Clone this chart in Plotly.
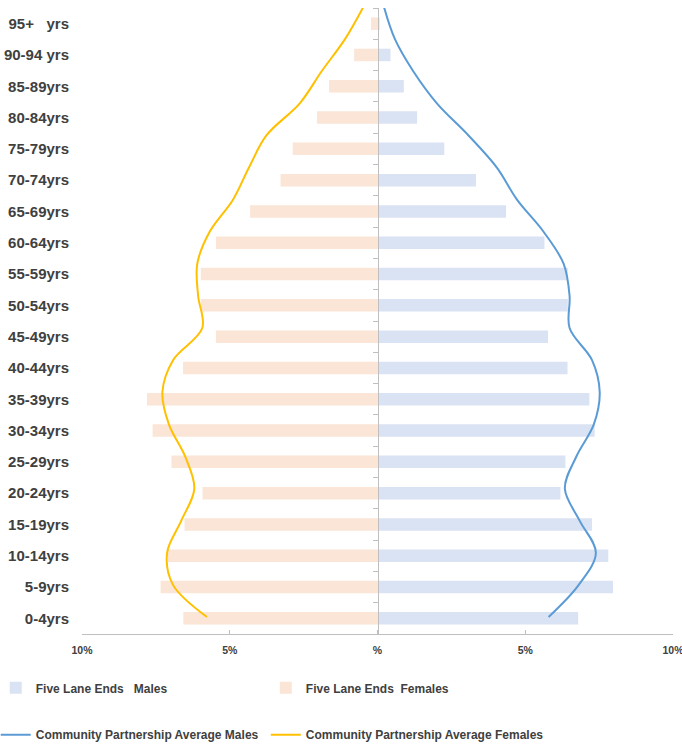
import plotly.graph_objects as go

ages = ["0-4yrs", "5-9yrs", "10-14yrs", "15-19yrs", "20-24yrs", "25-29yrs", "30-34yrs",
        "35-39yrs", "40-44yrs", "45-49yrs", "50-54yrs", "55-59yrs", "60-64yrs", "65-69yrs",
        "70-74yrs", "75-79yrs", "80-84yrs", "85-89yrs", "90-94 yrs", "95+\u00a0\u00a0\u00a0yrs"]

fle_males = [6.79, 7.97, 7.81, 7.26, 6.19, 6.36, 7.35, 7.17, 6.43, 5.77,
             6.44, 6.44, 5.65, 4.35, 3.33, 2.26, 1.34, 0.89, 0.44, 0.07]
fle_females = [6.57, 7.34, 7.09, 6.53, 5.92, 6.97, 7.61, 7.80, 6.58, 5.47,
               5.98, 5.98, 5.47, 4.31, 3.28, 2.87, 2.05, 1.64, 0.79, 0.22]
cp_males = [5.79, 6.81, 7.39, 6.84, 6.34, 6.73, 7.32, 7.52, 7.26, 6.50,
            6.50, 6.30, 5.62, 4.72, 4.04, 3.08, 2.01, 1.21, 0.59, 0.22]
cp_females = [5.77, 6.92, 7.12, 6.64, 6.20, 6.51, 7.06, 7.28, 6.92, 5.93,
              6.07, 6.10, 5.68, 4.89, 4.35, 3.76, 2.63, 1.89, 1.10, 0.48]

x_ticks = [-10, -5, 0, 5, 10]
x_tick_text = ["10%", "5%", "%", "5%", "10%"]

TXT = "#404040"
AXC = "#bfbfbf"
SANS = "Liberation Sans, Arial"

fig = go.Figure()

fig.add_trace(go.Bar(
    x=[-v for v in fle_females], y=ages, orientation="h", width=0.4,
    marker=dict(color="#fbe5d6", line=dict(width=0)),
    name="Five Lane Ends  Females", yaxis="y", legend="legend2",
))
fig.add_trace(go.Bar(
    x=fle_males, y=ages, orientation="h", width=0.4,
    marker=dict(color="#dae3f3", line=dict(width=0)),
    name="Five Lane Ends\u00a0\u00a0\u00a0Males", yaxis="y2", legend="legend",
))
fig.add_trace(go.Scatter(
    x=cp_males, y=ages, mode="lines", line=dict(color="#5b9bd5", width=2, shape="spline", smoothing=1.0),
    name="Community Partnership Average Males", yaxis="y3", legend="legend3",
))
fig.add_trace(go.Scatter(
    x=[-v for v in cp_females], y=ages, mode="lines", line=dict(color="#ffc000", width=2, shape="spline", smoothing=1.0),
    name="Community Partnership Average Females", yaxis="y3", legend="legend4",
))

cat_common = dict(type="category", categoryorder="array", categoryarray=ages, automargin=False)
leg_font = dict(family=SANS, size=12, color=TXT, weight="bold")
COL1, COL2 = -0.146, 0.311
ROW1, ROW2 = -0.086, -0.161

fig.update_layout(
    width=682, height=746,
    margin=dict(l=82, r=9, t=8, b=112, autoexpand=False),
    paper_bgcolor="white", plot_bgcolor="white",
    barmode="overlay",
    font=dict(family=SANS, color=TXT),
    xaxis=dict(range=[-10, 10], tickvals=x_ticks, ticktext=x_tick_text, automargin=False,
               showgrid=False, zeroline=False, showline=True, linecolor=AXC, linewidth=1,
               ticks="inside", ticklen=4, tickcolor=AXC, ticklabeloverflow="allow",
               ticklabelstandoff=6,
               tickfont=dict(family=SANS, size=10.5, color=TXT, weight="bold")),
    yaxis=dict(**cat_common, range=[-0.5, 19.5], showgrid=False, zeroline=False, showline=False,
               ticks="", ticklabelstandoff=12,
               tickfont=dict(family=SANS, size=15, color=TXT, weight="bold")),
    yaxis2=dict(**cat_common, range=[-0.5, 19.5], overlaying="y", anchor="free", position=0.5,
                showgrid=False, zeroline=False, showline=True, linecolor=AXC, linewidth=1,
                ticks="outside", ticklen=5, tickcolor=AXC, tickson="boundaries",
                showticklabels=False),
    yaxis3=dict(**cat_common, range=[-0.53, 18.97], overlaying="y", visible=False),
    legend=dict(orientation="h", x=COL1, xanchor="left", y=ROW1, yanchor="middle", font=leg_font),
    legend2=dict(orientation="h", x=COL2, xanchor="left", y=ROW1, yanchor="middle", font=leg_font),
    legend3=dict(orientation="h", x=COL1, xanchor="left", y=ROW2, yanchor="middle", font=leg_font),
    legend4=dict(orientation="h", x=COL2, xanchor="left", y=ROW2, yanchor="middle", font=leg_font),
    showlegend=True,
)

fig.write_html("out.html", config={"displayModeBar": False},
               post_script="document.body.style.margin='0';document.body.style.overflow='hidden';")
